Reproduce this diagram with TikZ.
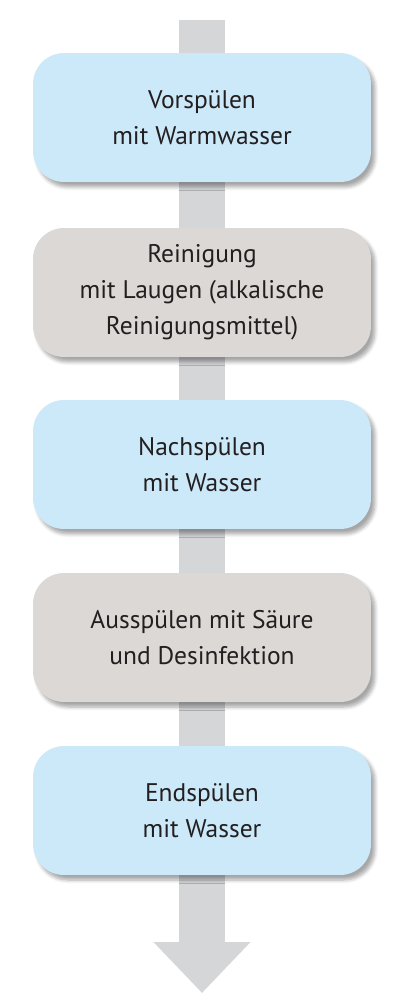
\documentclass[tikz,border=0pt]{standalone}
\usepackage{fontspec}
\setmainfont{PT Sans}
\usetikzlibrary{arrows.meta,shadows.blur}
\definecolor{flowgrey}{HTML}{D5D6D8}
\definecolor{stepblue}{HTML}{CCE9F9}
\definecolor{stepsand}{HTML}{DCD8D5}
\definecolor{steptext}{HTML}{231F20}
\tikzset{
  flow/.style={line width=0.92cm, draw=flowgrey, line cap=butt,
    -{Triangle[width=1.88cm, length=1.02cm]}},
  stepbox/.style={minimum width=6.76cm, minimum height=2.58cm, inner sep=0pt,
    rounded corners=0.62cm, align=center, text=steptext,
    font=\fontsize{14.5}{20.5}\selectfont,
    blur shadow={shadow xshift=0.08cm, shadow yshift=-0.1cm, shadow blur steps=6, shadow opacity=35}},
  waterstep/.style={stepbox, fill=stepblue},
  chemstep/.style={stepbox, fill=stepsand},
}

\begin{document}
\begin{tikzpicture}[x=0.02cm, y=-0.02cm]
\useasboundingbox (0,0) rectangle (404,1000);
\coordinate (start) at (202,20);
\coordinate (finish) at (202,993);
\draw[flow] (start) -- (finish);
\node[waterstep] (vorspuelen)  at (202,117.5) {Vorspülen\\mit Warmwasser};
\node[chemstep]  (reinigung)   at (202,292.5) {Reinigung\\mit Laugen (alkalische\\Reinigungsmittel)};
\node[waterstep] (nachspuelen) at (202,464.5) {Nachspülen\\mit Wasser};
\node[chemstep]  (ausspuelen)  at (202,637.5) {Ausspülen mit Säure\\und Desinfektion};
\node[waterstep] (endspuelen)  at (202,810.5) {Endspülen\\mit Wasser};
\end{tikzpicture}
\end{document}
